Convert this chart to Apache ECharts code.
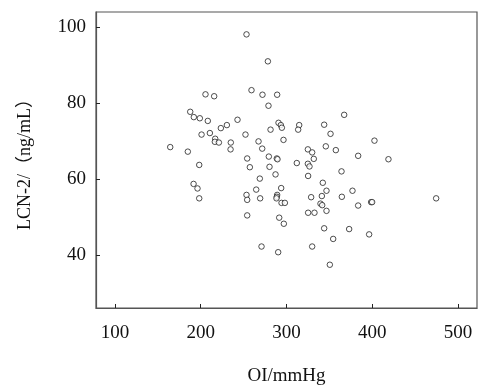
<!DOCTYPE html>
<html><head><meta charset="utf-8">
<script src="https://cdn.jsdelivr.net/npm/echarts@6/dist/echarts.min.js"></script>
<style>html,body{margin:0;padding:0;background:#fff}#c{width:481px;height:391px}</style>
</head><body><div id="c"></div>
<script>
const oiValues = [253.4,278.3,259.2,205.6,215.7,272.0,289.1,279.0,187.8,192.0,199.0,208.3,242.9,367.2,230.5,223.5,290.7,293.4,294.6,281.4,314.8,313.6,343.9,351.3,201.0,210.7,252.2,216.9,216.5,221.2,235.1,234.8,267.4,296.5,402.5,164.5,185.0,271.7,345.8,324.9,357.5,329.9,279.4,383.5,254.2,288.7,289.5,331.8,418.8,312.0,324.9,326.8,198.3,257.3,280.2,364.1,287.2,325.2,268.9,191.7,196.3,342.3,293.8,264.7,346.6,376.9,198.3,253.4,254.2,269.3,289.1,288.7,288.3,328.7,341.2,364.5,474.4,294.2,298.1,339.6,341.6,398.6,399.8,383.5,346.6,325.2,332.6,254.2,291.5,296.9,343.9,373.0,396.3,354.4,270.9,329.9,290.3,350.5];
const lcnValues = [98.1,91.0,83.4,82.3,81.8,82.2,82.2,79.3,77.7,76.3,76.0,75.3,75.6,76.9,74.2,73.4,74.8,74.2,73.5,73.0,74.2,73.0,74.3,71.9,71.7,72.1,71.7,70.6,69.8,69.6,69.6,67.8,69.9,70.3,70.1,68.4,67.2,68.0,68.6,67.8,67.6,67.0,65.9,66.1,65.4,65.4,65.2,65.3,65.2,64.2,64.0,63.3,63.7,63.1,63.2,62.0,61.2,60.8,60.1,58.7,57.5,59.0,57.6,57.2,56.9,56.9,54.9,55.8,54.5,54.9,55.8,55.3,54.9,55.2,55.5,55.3,54.9,53.7,53.7,53.5,53.1,53.9,53.9,53.0,51.6,51.1,51.1,50.4,49.8,48.2,47.0,46.8,45.4,44.2,42.2,42.2,40.7,37.4];
const xTicks = [100,200,300,400,500];
const yTicks = [40,60,80,100];
const points = oiValues.map((v,i)=>[v,lcnValues[i]]);
const font = '"Liberation Serif","Noto Sans CJK SC",serif';
const chart = echarts.init(document.getElementById('c'));
chart.setOption({
  animation:false,
  grid:{left:96,top:12,right:4,bottom:79,show:true,borderColor:'#555',borderWidth:1.2},
  xAxis:{type:'value',min:78,max:522,
    name:'OI/mmHg',nameLocation:'middle',nameGap:59,
    nameTextStyle:{fontFamily:font,fontSize:19,color:'#111'},
    axisLine:{show:true,lineStyle:{color:'#555',width:1.2}},
    axisTick:{show:true,inside:true,length:4,customValues:xTicks,lineStyle:{color:'#222'}},
    axisLabel:{customValues:xTicks,margin:16,fontFamily:font,fontSize:19,color:'#111'},
    splitLine:{show:false}},
  yAxis:{type:'value',min:26,max:104,
    name:'LCN-2/（ng/mL）',nameLocation:'middle',nameGap:62,nameRotate:90,
    nameTextStyle:{fontFamily:font,fontSize:18,color:'#111'},
    axisLine:{show:true,lineStyle:{color:'#555',width:1.2}},
    axisTick:{show:true,inside:true,length:4,customValues:yTicks,lineStyle:{color:'#222'}},
    axisLabel:{customValues:yTicks,margin:10,fontFamily:font,fontSize:19,color:'#111'},
    splitLine:{show:false}},
  series:[{type:'scatter',data:points,symbol:'circle',symbolSize:5.5,
    itemStyle:{color:'#fff',borderColor:'#222',borderWidth:1}}]
});
</script></body></html>
